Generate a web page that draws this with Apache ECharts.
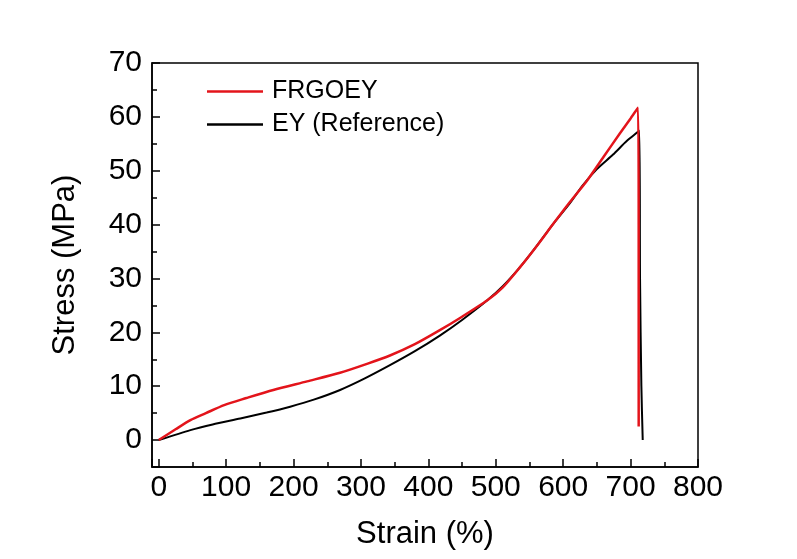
<!DOCTYPE html>
<html>
<head>
<meta charset="utf-8">
<title>Stress-strain curves</title>
<script src="https://cdn.jsdelivr.net/npm/echarts@6/dist/echarts.min.js"></script>
<style>
  html, body { margin: 0; padding: 0; background: #fff; }
  #chart { width: 797px; height: 559px; }
</style>
</head>
<body>
<div id="chart"></div>
<script>
// values: strain (%) and stress (MPa)
var frgoeyStrain = [0, 25, 47, 70, 97, 130, 170, 220, 269, 310, 343, 380, 417, 450, 487, 510, 536, 560, 585, 610, 635, 660, 684, 700, 711, 712, 712];
var frgoeyStress = [0, 2.0, 3.7, 5.0, 6.5, 7.8, 9.3, 10.9, 12.5, 14.2, 15.7, 17.8, 20.4, 22.9, 25.9, 28.3, 32.1, 35.9, 40.1, 44.2, 48.1, 52.6, 56.9, 59.7, 61.7, 40, 2.5];

var eyStrain = [0, 47, 80, 121, 160, 195, 230, 269, 305, 343, 380, 417, 450, 487, 510, 536, 560, 585, 610, 629, 650, 674, 695, 713, 714, 716, 718];
var eyStress = [0, 1.85, 2.9, 4.0, 5.1, 6.2, 7.5, 9.3, 11.4, 13.9, 16.5, 19.4, 22.3, 25.9, 28.5, 32.1, 35.9, 40.1, 44.0, 47.3, 50.3, 53.0, 55.6, 57.4, 30, 10, 0];

var seriesNames = ['FRGOEY', 'EY (Reference)'];

function pairs(xs, ys) {
    return xs.map(function (x, i) { return [x, ys[i]]; });
}

var font = '"Liberation Sans", Arial, sans-serif';
var chart = echarts.init(document.getElementById('chart'));

var axisBits = {
    axisLine: { onZero: false, lineStyle: { color: '#000', width: 1.5 } },
    axisTick: { inside: true, length: 8, lineStyle: { color: '#000', width: 1.5 } },
    minorTick: { show: true, splitNumber: 2, length: 5, lineStyle: { color: '#000', width: 1.5 } },
    splitLine: { show: false }
};

var option = {
    animation: false,
    backgroundColor: '#fff',
    textStyle: { fontFamily: font, color: '#000' },
    grid: {
        left: 152, top: 63, right: 99, bottom: 92,
        outerBoundsMode: 'none',
        show: true, borderColor: '#000', borderWidth: 1.5
    },
    legend: {
        data: seriesNames,
        orient: 'vertical',
        left: 207, top: 79,
        padding: 0,
        icon: 'rect',
        itemWidth: 56, itemHeight: 2.5, itemGap: 8,
        textStyle: { fontSize: 25, fontFamily: font, color: '#000', padding: [0, 0, 0, 4] }
    },
    xAxis: Object.assign({
        type: 'value',
        min: -10, max: 800,
        splitNumber: 8,
        name: 'Strain (%)',
        nameLocation: 'middle',
        nameGap: 52,
        nameMoveOverlap: false,
        nameTextStyle: { fontSize: 31, fontFamily: font, color: '#000' },
        axisLabel: { fontSize: 30, fontFamily: font, color: '#000', margin: 6, showMinLabel: false, showMaxLabel: true }
    }, axisBits),
    yAxis: Object.assign({
        type: 'value',
        min: -5, max: 70,
        splitNumber: 8,
        name: 'Stress (MPa)',
        nameLocation: 'middle',
        nameGap: 71,
        nameMoveOverlap: false,
        nameTextStyle: { fontSize: 31, fontFamily: font, color: '#000' },
        axisLabel: { fontSize: 30, fontFamily: font, color: '#000', margin: 10, showMinLabel: false, showMaxLabel: true }
    }, axisBits),
    series: [
        {
            name: seriesNames[1],
            type: 'line',
            symbol: 'none',
            smooth: 0.25,
            data: pairs(eyStrain, eyStress),
            lineStyle: { color: '#000', width: 2 },
            itemStyle: { color: '#000' }
        },
        {
            name: seriesNames[0],
            type: 'line',
            symbol: 'none',
            smooth: 0.25,
            data: pairs(frgoeyStrain, frgoeyStress),
            lineStyle: { color: '#e3141b', width: 2.5 },
            itemStyle: { color: '#e3141b' }
        }
    ]
};

chart.setOption(option);
</script>
</body>
</html>
